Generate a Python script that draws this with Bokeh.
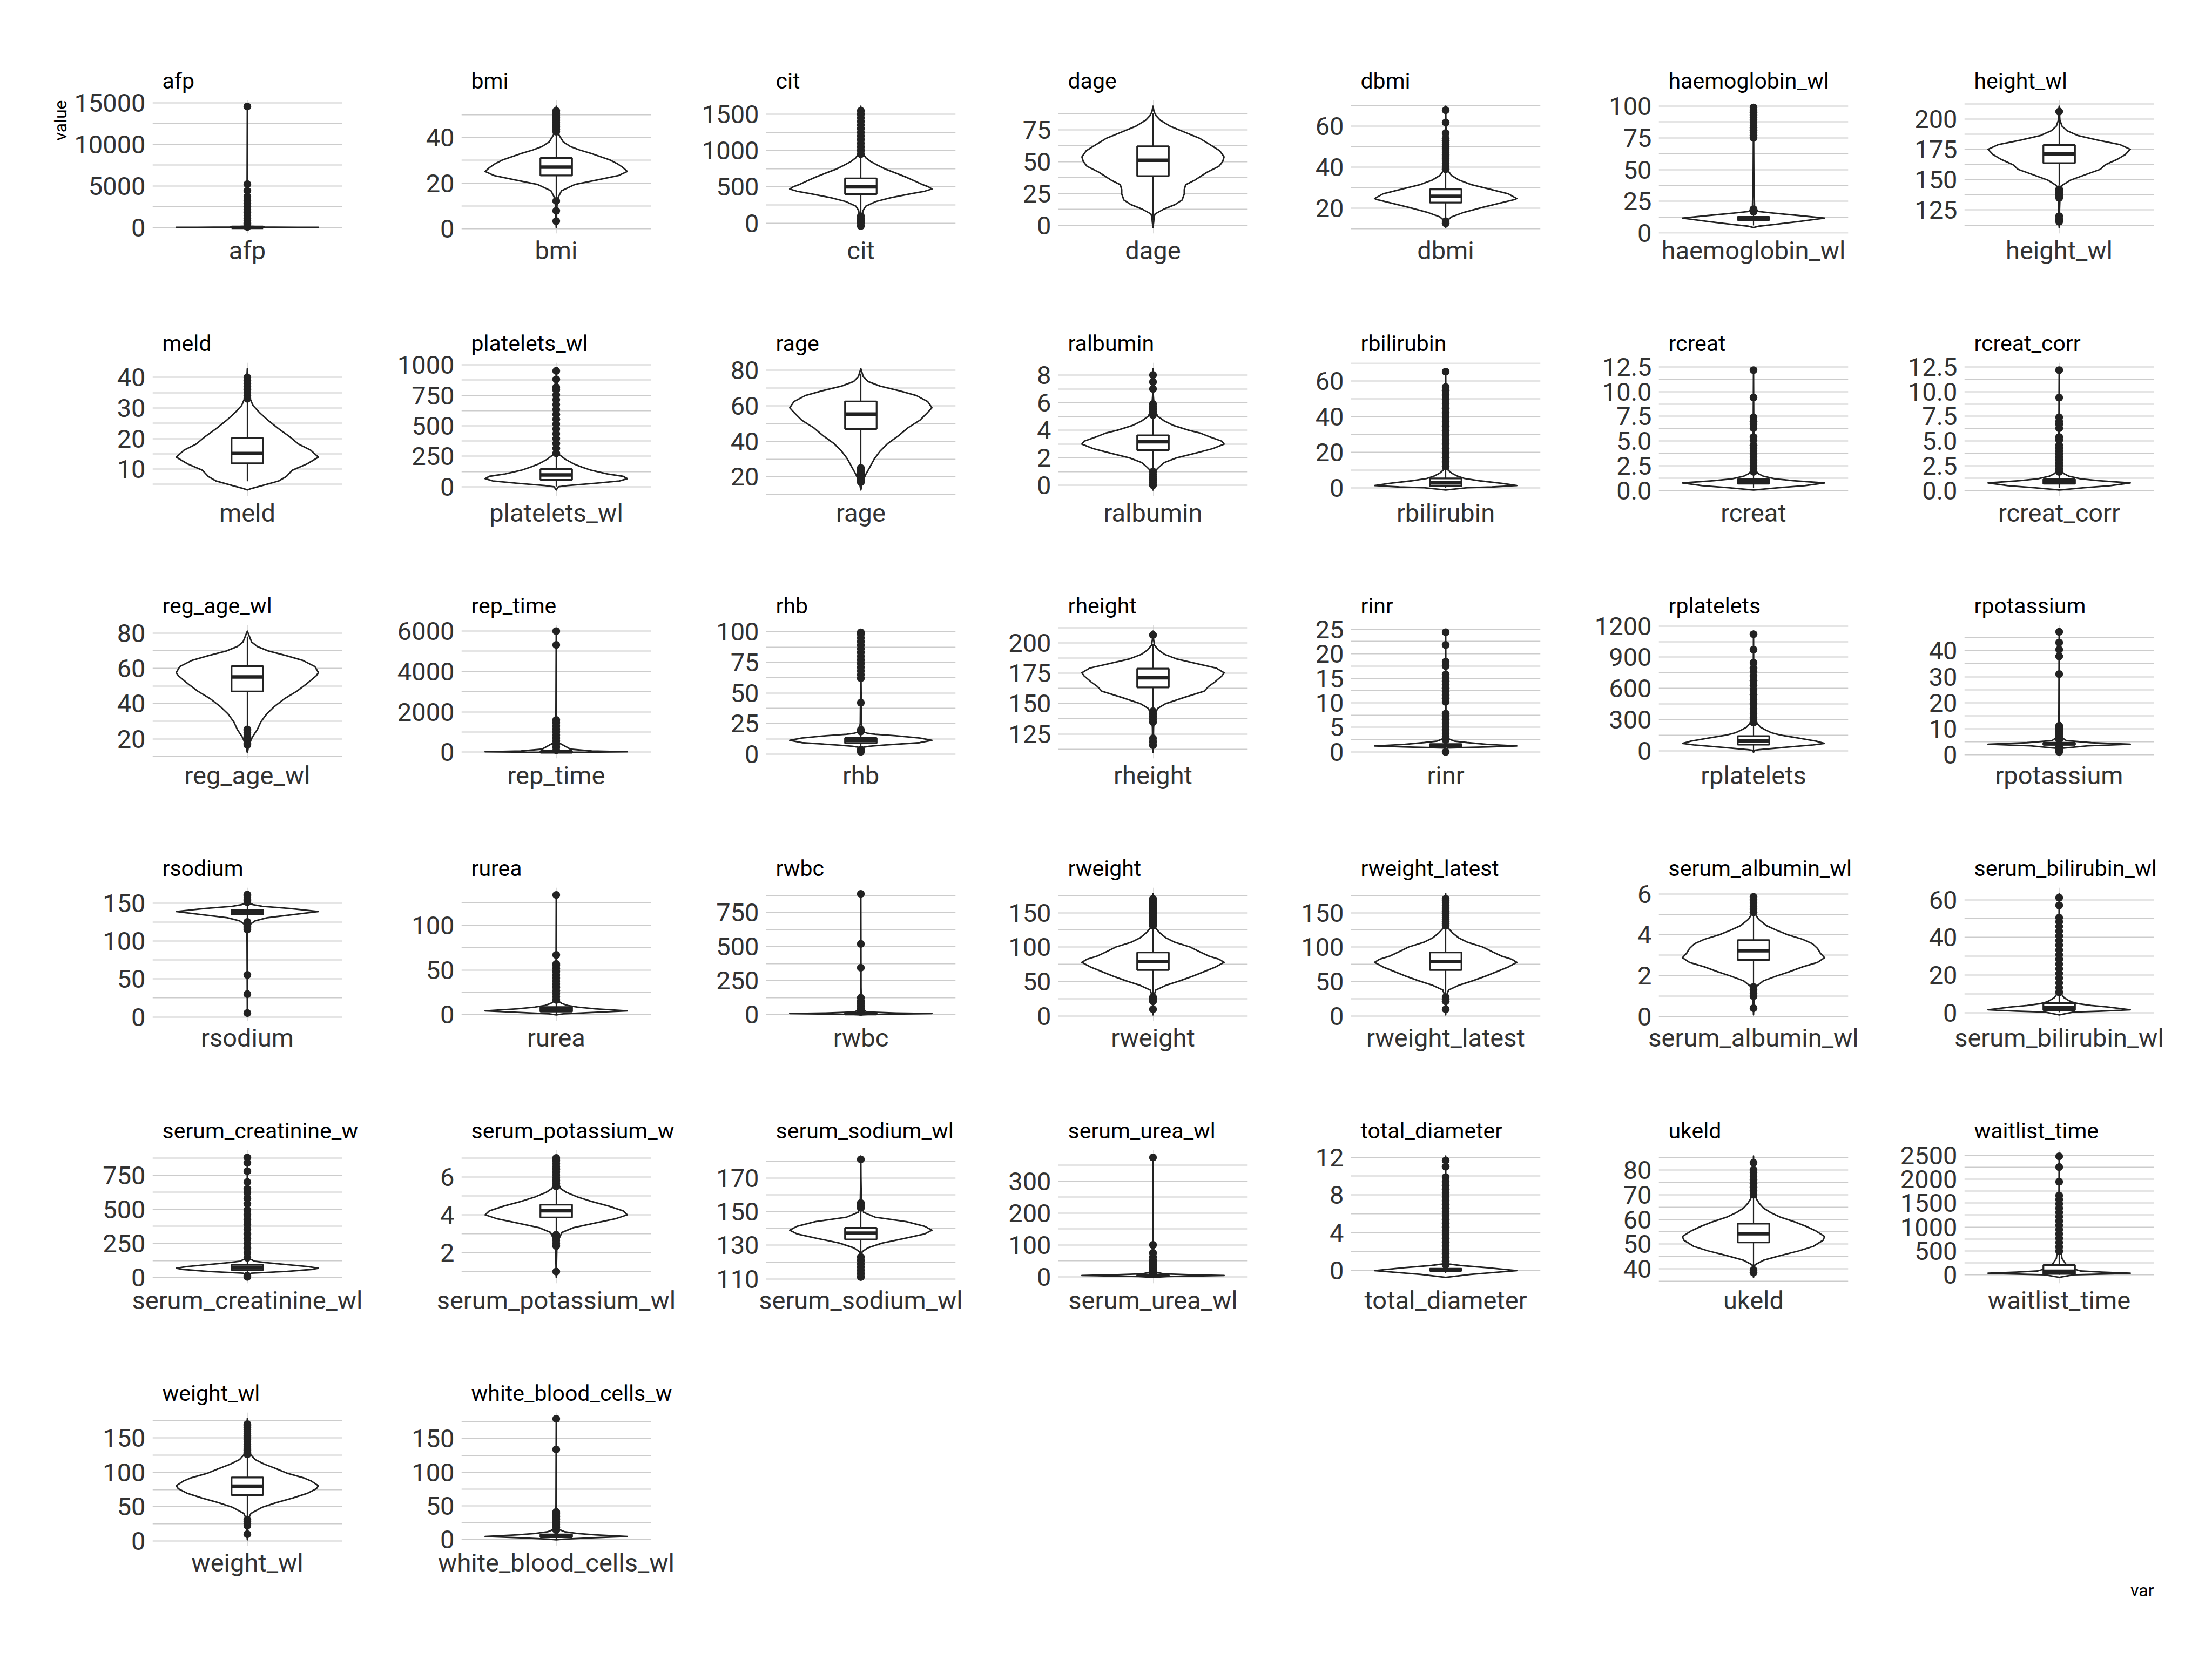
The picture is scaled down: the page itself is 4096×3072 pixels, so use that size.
from bokeh.plotting import figure
from bokeh.models import Range1d, FixedTicker, Title, Spacer
from bokeh.layouts import row, column
from bokeh.embed import file_html
from bokeh.resources import INLINE

# ---------------- data ----------------
VARS = ["afp", "bmi", "cit", "dage", "dbmi", "haemoglobin_wl", "height_wl",
        "meld", "platelets_wl", "rage", "ralbumin", "rbilirubin", "rcreat", "rcreat_corr",
        "reg_age_wl", "rep_time", "rhb", "rheight", "rinr", "rplatelets", "rpotassium",
        "rsodium", "rurea", "rwbc", "rweight", "rweight_latest", "serum_albumin_wl", "serum_bilirubin_wl",
        "serum_creatinine_wl", "serum_potassium_wl", "serum_sodium_wl", "serum_urea_wl", "total_diameter", "ukeld", "waitlist_time",
        "weight_wl", "white_blood_cells_wl"]

STRIP_TEXT = ["afp", "bmi", "cit", "dage", "dbmi", "haemoglobin_wl", "height_wl",
              "meld", "platelets_wl", "rage", "ralbumin", "rbilirubin", "rcreat", "rcreat_corr",
              "reg_age_wl", "rep_time", "rhb", "rheight", "rinr", "rplatelets", "rpotassium",
              "rsodium", "rurea", "rwbc", "rweight", "rweight_latest", "serum_albumin_wl", "serum_bilirubin_wl",
              "serum_creatinine_w", "serum_potassium_w", "serum_sodium_wl", "serum_urea_wl", "total_diameter", "ukeld", "waitlist_time",
              "weight_wl", "white_blood_cells_w"]

Q1 = [3, 23.4, 400, 38.6, 22.7, 10.3, 163.7,
      11.9, 57, 46.9, 2.55, 1.0, 0.7, 0.7,
      46.9, 5, 9, 163.3, 1.1, 58, 3.9,
      135, 3.5, 5.5, 66.9, 66.9, 2.77, 1.3,
      55, 3.86, 133.5, 2.5, 0, 50.7, 18,
      67, 3.5]
MEDIAN = [6, 27.0, 500, 51.0, 25.8, 11.6, 171.3,
          15.1, 97, 55.3, 3.16, 2.8, 0.9, 0.9,
          55.1, 15, 11.2, 171.3, 1.3, 92, 4.3,
          138, 5.5, 7.5, 79.1, 79.1, 3.22, 2.6,
          72, 4.21, 137.2, 4, 0, 54.2, 75,
          79.8, 5]
Q3 = [15, 31.0, 615, 62.0, 29.2, 12.8, 178.6,
      20.1, 145, 62.4, 3.63, 5.3, 1.15, 1.15,
      61.2, 40, 13.2, 178.8, 1.6, 140, 4.7,
      141, 8.5, 10, 92.3, 92.3, 3.74, 5.0,
      93, 4.54, 140.4, 6, 0.2, 58.3, 205,
      92.5, 7.5]
WHISK_LO = [0.5, 12.8, 115, 4, 14.5, 6, 145.3,
            6, 3, 25.5, 1.1, 0.1, 0.3, 0.3,
            25.5, 0, 5.7, 146, 0.8, 3, 3.2,
            127, 1, 1, 29.5, 29.5, 1.55, 0.2,
            30, 3.1, 124, 0, -0.3, 40.5, 0,
            32, 0.5]
WHISK_HI = [32, 42.3, 935, 88, 38.5, 16.3, 199.5,
            32.4, 272, 78, 5.0, 11.8, 1.8, 1.8,
            78, 90, 19, 199, 2.3, 263, 5.5,
            149.5, 16, 17, 130, 130, 5.0, 10.5,
            140, 5.4, 150.5, 9, 0.5, 69.5, 485,
            125, 13.5]

# violin density outlines: (value, relative half width)
afp_violin = [(-11, 0), (2, 0.5), (6, 1.0), (15, 0.7), (40, 0.25), (150, 0.04), (600, 0.01), (3000, 0.004), (14586, 0)]
afp_out = [60, 150, 300, 500, 800, 1100, 1450, 1800, 2150, 2500, 2850, 3200, 3700, 4400, 5200, 14560]
afp_ticks = [0, 5000, 10000, 15000]

bmi_violin = [(0.63, 0), (3, 0.004), (8, 0.006), (12, 0.015), (14, 0.03), (16.7, 0.075), (19.4, 0.26), (21.4, 0.57),
              (23.4, 0.88), (25.1, 1.0), (26.8, 0.94), (28.5, 0.86), (30.1, 0.76), (32.8, 0.51), (34.5, 0.33),
              (36, 0.2), (38, 0.1), (41, 0.04), (45, 0.015), (50, 0.006), (53.62, 0)]
bmi_out = [3.4, 7.9, 12.2, 42.5, 43.5, 44.5, 45.5, 46.5, 47.5, 48.5, 49.5, 50.5, 51.6]
bmi_ticks = [0, 20, 40]

cit_violin = [(-60, 0), (0, 0.005), (100, 0.02), (170, 0.03), (233, 0.07), (297, 0.21), (350, 0.42), (403, 0.7),
              (440, 0.9), (470, 1.0), (500, 0.95), (530, 0.87), (580, 0.76), (636, 0.63), (690, 0.49), (742, 0.35),
              (795, 0.24), (848, 0.14), (900, 0.07), (953, 0.035), (1100, 0.01), (1400, 0.004), (1609, 0)]
cit_out = [-40, 0, 30, 60, 95, 950, 1000, 1050, 1100, 1150, 1200, 1250, 1300, 1350, 1400, 1450, 1500, 1547]
cit_ticks = [0, 500, 1000, 1500]

dage_violin = [(-1.64, 0), (3, 0.01), (6.6, 0.015), (9, 0.03), (12.7, 0.15), (16.3, 0.31), (19.9, 0.41), (24.7, 0.44),
               (28, 0.44), (31.9, 0.46), (35.5, 0.59), (41.6, 0.76), (46.4, 0.93), (50, 0.98), (53.6, 1.0),
               (58.4, 0.94), (63.3, 0.8), (68.1, 0.66), (72.9, 0.45), (77.7, 0.24), (82.5, 0.1), (86.1, 0.04),
               (89, 0.015), (93.3, 0)]
dage_out = []
dage_ticks = [0, 25, 50, 75]

dbmi_violin = [(10.56, 0), (13.5, 0.01), (15.7, 0.08), (18.0, 0.26), (20.2, 0.5), (22.5, 0.77), (24.3, 0.98),
               (24.7, 1.0), (27.0, 0.88), (29.2, 0.63), (31.5, 0.36), (33.7, 0.19), (36.0, 0.08), (38.2, 0.035),
               (46.4, 0.01), (60, 0.004), (69.74, 0)]
dbmi_out = [12.6, 13.6, 39, 40, 41, 42, 43, 44, 45, 46, 47, 48, 49, 50, 51, 52, 53, 54, 56.6, 61.8, 67.8]
dbmi_ticks = [20, 40, 60]

haemoglobin_wl_violin = [(4.42, 0), (5.5, 0.08), (6.7, 0.28), (9.1, 0.63), (11.8, 1.0), (13.9, 0.63), (15.8, 0.28),
                         (17, 0.07), (20, 0.015), (40, 0.005), (99.95, 0)]
haemoglobin_wl_out = [16.8, 17.8, 18.8, 75, 77, 79, 81, 83, 85, 87, 89, 91, 93, 95, 97, 99]
haemoglobin_wl_ticks = [0, 25, 50, 75, 100]

height_wl_violin = [(110.6, 0), (115.5, 0.004), (125, 0.005), (133, 0.01), (141, 0.02), (145.3, 0.04), (149.7, 0.16),
                    (154.8, 0.4), (158.6, 0.58), (162.4, 0.65), (166.9, 0.82), (170.7, 0.93), (175.1, 1.0),
                    (178.9, 0.86), (182.7, 0.54), (186.5, 0.26), (190.4, 0.11), (194.2, 0.04), (199.2, 0.01),
                    (206, 0.003), (210.6, 0)]
height_wl_out = [115.5, 117.5, 119.9, 135.2, 137, 139, 141, 142.1, 206.2]
height_wl_ticks = [125, 150, 175, 200]

meld_violin = [(3.17, 0), (3.6, 0.05), (4.6, 0.21), (6.1, 0.44), (7.6, 0.55), (9.6, 0.63), (11.7, 0.84), (13.9, 1.0),
               (16.2, 0.89), (18.2, 0.72), (20.7, 0.59), (23.2, 0.44), (25.8, 0.3), (28.3, 0.18), (30.8, 0.08),
               (33.3, 0.035), (38.3, 0.01), (42.85, 0)]
meld_out = [33, 34, 35, 36, 37, 38, 39, 40]
meld_ticks = [10, 20, 30, 40]

platelets_wl_violin = [(-26, 0), (0, 0.03), (10, 0.16), (29, 0.55), (48, 0.89), (67, 1.0), (86, 0.94), (105, 0.72),
                       (136, 0.49), (162, 0.36), (187, 0.25), (225, 0.13), (263, 0.045), (313, 0.02), (540, 0.005),
                       (969, 0)]
platelets_wl_out = [275, 315, 355, 395, 435, 475, 515, 555, 595, 635, 675, 715, 755, 795, 818, 881, 951]
platelets_wl_ticks = [0, 250, 500, 750, 1000]

rage_violin = [(12.63, 0), (13.6, 0.005), (17, 0.02), (21.4, 0.07), (25.7, 0.13), (30.1, 0.19), (34.4, 0.27),
               (38.8, 0.38), (43.1, 0.53), (47.5, 0.66), (51.8, 0.83), (56.2, 0.94), (58.8, 1.0), (62.3, 0.94),
               (65.7, 0.78), (68.3, 0.55), (71, 0.27), (73.6, 0.1), (76.2, 0.035), (80.76, 0)]
rage_out = [17, 18, 19, 20, 21, 22, 23, 24, 25]
rage_ticks = [20, 40, 60, 80]

ralbumin_violin = [(-0.34, 0), (0.98, 0.02), (1.3, 0.08), (1.65, 0.16), (1.99, 0.33), (2.32, 0.59), (2.66, 0.84),
                   (2.99, 1.0), (3.2, 0.97), (3.55, 0.78), (3.78, 0.67), (4.0, 0.5), (4.34, 0.29), (4.67, 0.16),
                   (5.0, 0.07), (5.45, 0.02), (6.5, 0.005), (8.465, 0)]
ralbumin_out = [0.0, 0.2, 0.4, 0.6, 0.8, 1.0, 5.1, 5.3, 5.5, 5.7, 5.9, 7.0, 7.5, 8.0]
ralbumin_ticks = [0, 2, 4, 6, 8]

rbilirubin_violin = [(-1.17, 0), (0.1, 0.3), (0.5, 0.65), (1.3, 1.0), (2.6, 0.78), (3.9, 0.49), (5.2, 0.27),
                     (6.5, 0.17), (8.2, 0.085), (9.9, 0.035), (20, 0.01), (40, 0.004), (66.77, 0)]
rbilirubin_out = [12, 14.5, 17, 19.5, 22, 24.5, 27, 29.5, 32, 34.5, 37, 39.5, 42, 44.5, 47, 49.5, 52, 54.5, 56.5, 65.1]
rbilirubin_ticks = [0, 20, 40, 60]

rcreat_violin = [(0.07, 0), (0.3, 0.35), (0.5, 0.72), (0.78, 1.0), (1.0, 0.56), (1.2, 0.3), (1.45, 0.14),
                 (1.7, 0.07), (2.0, 0.03), (3, 0.01), (6, 0.004), (12.31, 0)]
rcreat_out = [1.9, 2.2, 2.5, 2.8, 3.1, 3.4, 3.7, 4.0, 4.3, 4.6, 5.1, 5.4, 6.3, 6.7, 7.0, 7.4, 9.4, 12.16]
rcreat_ticks = [0.0, 2.5, 5.0, 7.5, 10.0, 12.5]

rcreat_corr_violin = [(0.07, 0), (0.3, 0.35), (0.5, 0.72), (0.78, 1.0), (1.0, 0.56), (1.2, 0.3), (1.45, 0.14),
                      (1.7, 0.07), (2.0, 0.03), (3, 0.01), (6, 0.004), (12.31, 0)]
rcreat_corr_out = [1.9, 2.2, 2.5, 2.8, 3.1, 3.4, 3.7, 4.0, 4.3, 4.6, 5.1, 5.4, 6.3, 6.7, 7.0, 7.4, 9.4, 12.16]
rcreat_corr_ticks = [0.0, 2.5, 5.0, 7.5, 10.0, 12.5]

reg_age_wl_violin = [(12.26, 0), (13, 0.005), (16.5, 0.02), (20.9, 0.07), (25.2, 0.14), (29.6, 0.19), (34, 0.27),
                     (38.3, 0.38), (42.7, 0.52), (47.1, 0.7), (51.4, 0.84), (55.8, 0.97), (57.6, 1.0), (61, 0.95),
                     (64.5, 0.78), (67.2, 0.55), (69.8, 0.3), (72.4, 0.14), (75, 0.06), (81.1, 0)]
reg_age_wl_out = [16.5, 17.5, 18.5, 19.5, 20.5, 21.5, 22.5, 23.5, 24.5, 25.3]
reg_age_wl_ticks = [20, 40, 60, 80]

rep_time_violin = [(-11, 0), (5, 0.6), (20, 1.0), (60, 0.5), (150, 0.2), (500, 0.02), (1500, 0.005), (5989, 0)]
rep_time_out = [100, 250, 400, 550, 700, 850, 1000, 1150, 1300, 1450, 1590, 5310, 5990]
rep_time_ticks = [0, 2000, 4000, 6000]

rhb_violin = [(1.45, 0), (4, 0.01), (5.7, 0.04), (6.5, 0.12), (7.5, 0.33), (9.4, 0.83), (11.3, 1.0), (13.2, 0.83),
              (15.1, 0.49), (16.3, 0.2), (17, 0.1), (18.2, 0.03), (25, 0.008), (60, 0.003), (100.45, 0)]
rhb_out = [2.0, 3.8, 18.5, 20, 42.1, 62, 65, 68, 71, 74, 77, 80, 83, 86, 89, 92, 95, 98, 99.5]
rhb_ticks = [0, 25, 50, 75, 100]

rheight_violin = [(109.8, 0), (115.7, 0.004), (130, 0.008), (141, 0.02), (146.2, 0.07), (150, 0.18), (155.1, 0.44),
                  (160.2, 0.72), (164, 0.78), (167.8, 0.87), (172.8, 0.97), (175.4, 1.0), (179.2, 0.89), (183, 0.61),
                  (186.8, 0.33), (190.6, 0.16), (194.4, 0.07), (198.2, 0.02), (204, 0.005), (209.6, 0)]
rheight_out = [115.7, 118.5, 121.4, 134.8, 137, 139.3, 141.5, 143.7, 206.5]
rheight_ticks = [125, 150, 175, 200]

rinr_violin = [(-0.11, 0), (0.8, 0.02), (1.0, 0.6), (1.2, 1.0), (1.5, 0.6), (1.9, 0.3), (2.2, 0.12), (2.6, 0.05),
               (3.5, 0.015), (8, 0.004), (24.61, 0)]
rinr_out = [0.0, 2.4, 3.1, 3.8, 4.5, 5.2, 5.9, 6.6, 7.3, 7.8, 10.2, 10.9, 11.6, 12.3, 13.0, 13.7, 14.4, 15.1, 15.8,
            17.5, 18.4, 21.8, 24.4]
rinr_ticks = [0, 5, 10, 15, 20, 25]

rplatelets_violin = [(-17, 0), (3, 0.01), (10, 0.08), (33, 0.46), (55, 0.84), (70, 1.0), (92, 0.88), (121, 0.63),
                     (151, 0.37), (173, 0.25), (203, 0.16), (225, 0.1), (262, 0.05), (351, 0.015), (600, 0.004),
                     (1151, 0)]
rplatelets_out = [270, 315, 360, 405, 450, 495, 540, 585, 630, 675, 720, 765, 796, 847, 973, 1121]
rplatelets_ticks = [0, 300, 600, 900, 1200]

rpotassium_violin = [(0.97, 0), (2.5, 0.02), (3.5, 0.4), (4.1, 1.0), (4.7, 0.45), (5.5, 0.1), (7, 0.02),
                     (12, 0.005), (47.46, 0)]
rpotassium_out = [1.2, 1.8, 2.4, 3.0, 5.8, 6.5, 7.2, 8.0, 8.8, 9.6, 10.4, 11.2, 31.0, 37.8, 40.4, 43.1, 47.2]
rpotassium_ticks = [0, 10, 20, 30, 40]

rsodium_violin = [(2.7, 0), (50, 0.002), (115, 0.005), (122.5, 0.05), (126.5, 0.11), (130.6, 0.28), (134.6, 0.64),
                  (138.7, 1.0), (142.7, 0.61), (145.7, 0.21), (147.8, 0.08), (149.8, 0.03), (155, 0.008), (162.3, 0)]
rsodium_out = [5.1, 30, 55.3, 115, 117, 119, 121, 123, 125, 151, 153, 155, 157, 159, 161]
rsodium_ticks = [0, 50, 100, 150]

rurea_violin = [(-0.2, 0), (1, 0.1), (2.5, 0.5), (4.3, 1.0), (6.5, 0.55), (8.5, 0.3), (10.3, 0.16), (12.5, 0.08),
                (14.6, 0.04), (20, 0.01), (50, 0.003), (135.2, 0)]
rurea_out = [16.5, 20, 23.5, 27, 30.5, 34, 37.5, 41, 44.5, 48, 51.5, 55, 56.7, 66.7, 133.7]
rurea_ticks = [0, 50, 100]

rwbc_violin = [(-1.8, 0), (0.5, 0.1), (5, 0.6), (8, 1.0), (12, 0.5), (20, 0.08), (50, 0.01), (200, 0.003), (889.6, 0)]
rwbc_out = [20, 40, 60, 80, 100, 124, 345, 520, 888]
rwbc_ticks = [0, 250, 500, 750]

rweight_violin = [(1.9, 0), (10, 0.004), (29, 0.01), (37.9, 0.04), (44.6, 0.18), (51.3, 0.38), (58, 0.56), (64.6, 0.72),
                  (71.3, 0.88), (78, 1.0), (82.5, 0.93), (86.9, 0.79), (93.6, 0.65), (100.3, 0.52), (107, 0.31),
                  (113.7, 0.18), (120.4, 0.1), (127.1, 0.04), (140, 0.01), (177.6, 0)]
rweight_out = [10, 21.5, 24.5, 27.5, 131, 134, 137, 140, 143, 146, 149, 152, 155, 158, 161, 164, 167, 170]
rweight_ticks = [0, 50, 100, 150]

rweight_latest_violin = [(1.9, 0), (10, 0.004), (29, 0.01), (37.9, 0.04), (44.6, 0.18), (51.3, 0.38), (58, 0.56),
                         (64.6, 0.72), (71.3, 0.88), (78, 1.0), (82.5, 0.93), (86.9, 0.79), (93.6, 0.65),
                         (100.3, 0.52), (107, 0.31), (113.7, 0.18), (120.4, 0.1), (127.1, 0.04), (140, 0.01),
                         (177.6, 0)]
rweight_latest_out = [10, 21.5, 24.5, 27.5, 131, 134, 137, 140, 143, 146, 149, 152, 155, 158, 161, 164, 167, 170]
rweight_latest_ticks = [0, 50, 100, 150]

serum_albumin_wl_violin = [(0.086, 0), (0.41, 0.003), (1.0, 0.01), (1.45, 0.03), (1.75, 0.14), (1.98, 0.32),
                           (2.2, 0.51), (2.43, 0.69), (2.65, 0.9), (2.88, 1.0), (3.1, 0.94), (3.33, 0.9),
                           (3.56, 0.83), (3.78, 0.69), (4.0, 0.48), (4.23, 0.32), (4.45, 0.18), (4.76, 0.07),
                           (4.98, 0.03), (5.5, 0.008), (6.01, 0)]
serum_albumin_wl_out = [0.41, 1.0, 1.15, 1.3, 1.45, 5.1, 5.25, 5.4, 5.55, 5.7, 5.85]
serum_albumin_wl_ticks = [0, 2, 4, 6]

serum_bilirubin_wl_violin = [(-1.2, 0), (0.3, 0.2), (0.8, 0.6), (1.5, 1.0), (2.2, 0.85), (3.0, 0.68), (3.8, 0.45),
                             (4.7, 0.27), (5.5, 0.19), (6.3, 0.14), (7.9, 0.07), (10, 0.03), (20, 0.008), (40, 0.003),
                             (63.25, 0)]
serum_bilirubin_wl_out = [10.8, 13.3, 15.8, 18.3, 20.8, 23.3, 25.8, 28.3, 30.8, 33.3, 35.8, 38.3, 40.8, 43.3, 45.8,
                          48.3, 50.5, 57, 61.1]
serum_bilirubin_wl_ticks = [0, 20, 40, 60]

serum_creatinine_wl_violin = [(1.5, 0), (25, 0.02), (32, 0.06), (45, 0.55), (60, 0.92), (68, 1.0), (80, 0.85),
                              (95, 0.55), (110, 0.25), (120, 0.1), (135, 0.04), (200, 0.01), (400, 0.003), (890.5, 0)]
serum_creatinine_wl_out = [5, 14, 145, 180, 215, 250, 285, 320, 355, 390, 425, 460, 495, 540, 580, 620, 650, 700,
                           780, 840, 880]
serum_creatinine_wl_ticks = [0, 250, 500, 750]

serum_potassium_wl_violin = [(0.7, 0), (1.0, 0.002), (2.5, 0.01), (3.07, 0.08), (3.32, 0.24), (3.56, 0.54),
                             (3.8, 0.84), (4.0, 1.0), (4.21, 0.94), (4.46, 0.74), (4.7, 0.5), (4.94, 0.3),
                             (5.19, 0.14), (5.39, 0.06), (5.76, 0.02), (6.5, 0.005), (7.1, 0)]
serum_potassium_wl_out = [1.0, 2.35, 2.5, 2.65, 2.8, 2.95, 5.5, 5.65, 5.8, 5.95, 6.1, 6.25, 6.4, 6.55, 6.7, 6.85, 7.0]
serum_potassium_wl_ticks = [2, 4, 6]

serum_sodium_wl_violin = [(110.9, 0), (120, 0.004), (124, 0.008), (126.2, 0.02), (128.5, 0.1), (131.3, 0.3),
                          (134, 0.6), (136.8, 0.9), (139, 1.0), (141.3, 0.9), (144.1, 0.64), (146.8, 0.2),
                          (149.6, 0.04), (155, 0.008), (170, 0.002), (183.2, 0)]
serum_sodium_wl_out = [111.1, 113, 115, 117, 119, 121, 123, 152.3, 153.8, 155.2, 181.2]
serum_sodium_wl_ticks = [110, 130, 150, 170]

serum_urea_wl_violin = [(-1.8, 0), (0.5, 0.2), (2.5, 0.6), (4, 1.0), (6, 0.55), (9, 0.15), (15, 0.03), (40, 0.01),
                        (100, 0.003), (379.1, 0)]
serum_urea_wl_out = [9.5, 15, 21, 27, 33, 39, 45, 52, 62, 75, 100, 375]
serum_urea_wl_ticks = [0, 100, 200, 300]

total_diameter_violin = [(-0.71, 0), (-0.4, 0.35), (0, 1.0), (0.3, 0.6), (0.55, 0.2), (0.7, 0.05), (1.2, 0.01),
                         (4, 0.004), (12.13, 0)]
total_diameter_out = [0.6, 1.0, 1.4, 1.8, 2.2, 2.6, 3.0, 3.4, 3.8, 4.2, 4.6, 5.0, 5.4, 5.8, 6.2, 6.6, 7.0, 7.4, 7.8,
                      8.2, 8.6, 9.0, 9.4, 9.9, 11.0, 11.66]
total_diameter_ticks = [0, 4, 8, 12]

ukeld_violin = [(36.6, 0), (38.5, 0.005), (40, 0.01), (41.7, 0.02), (43.5, 0.14), (45.4, 0.38), (47.3, 0.64),
                (49.1, 0.84), (51.6, 0.98), (53.1, 1.0), (55.3, 0.88), (57.2, 0.74), (59, 0.58), (60.9, 0.38),
                (62.8, 0.24), (64.6, 0.14), (66.5, 0.08), (68.3, 0.04), (75, 0.008), (85.6, 0)]
ukeld_out = [38.5, 39.5, 70, 71.5, 73, 74.5, 76, 77.5, 79, 80, 82.9]
ukeld_ticks = [40, 50, 60, 70, 80]

waitlist_time_violin = [(-53, 0), (0, 0.2), (10, 0.5), (32, 1.0), (55, 0.6), (80, 0.3), (145, 0.16), (210, 0.1),
                        (340, 0.04), (600, 0.015), (1200, 0.005), (2482, 0)]
waitlist_time_out = [495, 585, 675, 765, 855, 945, 1035, 1125, 1215, 1305, 1395, 1485, 1575, 1657, 1946, 2252, 2477]
waitlist_time_ticks = [0, 500, 1000, 1500, 2000, 2500]

weight_wl_violin = [(1.9, 0), (10, 0.004), (31, 0.01), (40.2, 0.05), (49.2, 0.21), (55.9, 0.41), (62.6, 0.64),
                    (69.3, 0.84), (76, 0.97), (80.5, 1.0), (87.2, 0.9), (91.6, 0.8), (98.3, 0.57), (105, 0.41),
                    (111.8, 0.24), (118.5, 0.11), (125.2, 0.05), (140, 0.01), (178.1, 0)]
weight_wl_out = [10, 22.4, 25.5, 28.5, 31.3, 126, 129, 132, 135, 138, 141, 144, 147, 150, 153, 156, 159, 162, 165,
                 168, 169.9]
weight_wl_ticks = [0, 50, 100, 150]

white_blood_cells_wl_violin = [(-0.4, 0), (0.5, 0.1), (2.5, 0.5), (4.6, 1.0), (7, 0.55), (9, 0.3), (11.5, 0.12),
                               (15, 0.04), (20, 0.015), (50, 0.004), (179.9, 0)]
white_blood_cells_wl_out = [14, 18, 22, 26, 30, 34, 38, 41, 134, 179.5]
white_blood_cells_wl_ticks = [0, 50, 100, 150]

VIOLINS = [globals()[v + "_violin"] for v in VARS]
OUTLIERS = [globals()[v + "_out"] for v in VARS]
TICKS = [globals()[v + "_ticks"] for v in VARS]

# ---------------- style / geometry ----------------
DARK = "#222222"
GRID = "#cccccc"
FONT = "Roboto"
FW, FH = 351, 247
BORDER_L = [282, 151, 143, 120, 121, 149, 145]
BORDER_R = 70
BORDER_T = 159
BORDER_B = 80
BORDER_B_LAST = 190
TOP_PAD = 26
NCOL = 7


def fmt_labels(ticks):
    if all(float(t).is_integer() for t in ticks):
        return {t: str(int(t)) for t in ticks}
    return {t: f"{t:.1f}" for t in ticks}


def make_panel(i, col, bottom_border):
    vio = VIOLINS[i]
    out = OUTLIERS[i]
    ticks = TICKS[i]
    vals = [y for y, _ in vio] + list(out) + [WHISK_LO[i], WHISK_HI[i]]
    lo, hi = min(vals), max(vals)
    pad = 0.05 * (hi - lo)
    ylo, yhi = lo - pad, hi + pad
    step = ticks[1] - ticks[0]
    minor = [ticks[0] - step / 2] + [t + step / 2 for t in ticks]
    minor = [m for m in minor if ylo <= m <= yhi]

    p = figure(frame_width=FW, frame_height=FH, x_range=Range1d(-0.6, 0.6), y_range=Range1d(ylo, yhi),
               output_backend="svg", toolbar_location=None,
               min_border_left=BORDER_L[col], min_border_right=BORDER_R,
               min_border_top=BORDER_T, min_border_bottom=bottom_border,
               title=STRIP_TEXT[i])
    p.outline_line_color = None
    p.background_fill_color = "white"
    p.border_fill_color = "white"

    p.title.text_font = FONT
    p.title.text_font_size = "41px"
    p.title.text_font_style = "normal"
    p.title.text_color = "#000000"
    p.title.align = "left"
    p.title.offset = 18
    p.title.standoff = 23

    yt = FixedTicker(ticks=ticks, minor_ticks=minor)
    xt = FixedTicker(ticks=[0])
    p.yaxis.ticker = yt
    p.xaxis.ticker = xt
    p.yaxis.major_label_overrides = fmt_labels(ticks)
    p.xaxis.major_label_overrides = {0: VARS[i]}
    for ax in p.axis:
        ax.axis_line_color = None
        ax.major_tick_line_color = None
        ax.minor_tick_line_color = None
        ax.major_tick_out = 0
        ax.major_tick_in = 0
        ax.minor_tick_out = 0
        ax.minor_tick_in = 0
        ax.major_label_text_font = FONT
        ax.major_label_text_font_size = "47px"
        ax.major_label_text_color = "#333333"
    p.yaxis.major_label_standoff = 13
    p.xaxis.major_label_standoff = 3

    p.ygrid.ticker = yt
    p.ygrid.grid_line_color = GRID
    p.ygrid.grid_line_width = 2
    p.ygrid.minor_grid_line_color = GRID
    p.ygrid.minor_grid_line_width = 2
    p.xgrid.ticker = xt
    p.xgrid.grid_line_color = "#dcdcdc"
    p.xgrid.grid_line_width = 1

    # violin
    ys = [y for y, _ in vio]
    xr = [0.45 * w for _, w in vio]
    px = xr + [-x for x in reversed(xr)]
    py = ys + list(reversed(ys))
    p.patch(px, py, fill_color="white", line_color=DARK, line_width=2.8, line_join="round")
    # whiskers
    p.segment(x0=[0, 0], y0=[Q3[i], Q1[i]], x1=[0, 0], y1=[WHISK_HI[i], WHISK_LO[i]],
              line_color=DARK, line_width=2.2)
    # box
    p.quad(left=[-0.1], right=[0.1], bottom=[Q1[i]], top=[Q3[i]], fill_color="white",
           line_color=DARK, line_width=3.2)
    p.segment(x0=[-0.1], y0=[MEDIAN[i]], x1=[0.1], y1=[MEDIAN[i]], line_color=DARK, line_width=6.5)
    # outliers
    if out:
        p.scatter(x=[0] * len(out), y=out, size=14.5, fill_color=DARK, line_color=DARK, line_width=0)
    return p


rows = []
n = len(VARS)
nrows = (n + NCOL - 1) // NCOL
for r in range(nrows):
    last = (r == nrows - 1)
    bb = BORDER_B_LAST if last else BORDER_B
    figs = []
    for c in range(NCOL):
        i = r * NCOL + c
        if i < n:
            figs.append(make_panel(i, c, bb))
    if len(figs) < NCOL:
        spacer_w = sum(BORDER_L[c] + FW + BORDER_R for c in range(len(figs), NCOL - 1))
        figs.append(Spacer(width=spacer_w, height=BORDER_T + FH + bb))
        pv = figure(frame_width=FW, frame_height=FH, x_range=Range1d(0, 1), y_range=Range1d(0, 1),
                    output_backend="svg", toolbar_location=None, x_axis_type=None, y_axis_type=None,
                    min_border_left=BORDER_L[NCOL - 1], min_border_right=BORDER_R,
                    min_border_top=BORDER_T, min_border_bottom=bb)
        pv.outline_line_color = None
        pv.add_layout(Title(text="var", align="right", text_font=FONT, text_font_size="32px",
                            text_font_style="normal", text_color="#000000", standoff=122), "below")
        figs.append(pv)
    rows.append(row(*figs, spacing=0))

# y axis title on the first panel
first = rows[0].children[0]
first.add_layout(Title(text="value", align="right", text_font=FONT, text_font_size="32px",
                       text_font_style="normal", text_color="#000000", standoff=8), "left")

layout = column(Spacer(height=TOP_PAD, width=10), *rows, spacing=0)

with open("out.html", "w") as f:
    f.write(file_html(layout, INLINE))
